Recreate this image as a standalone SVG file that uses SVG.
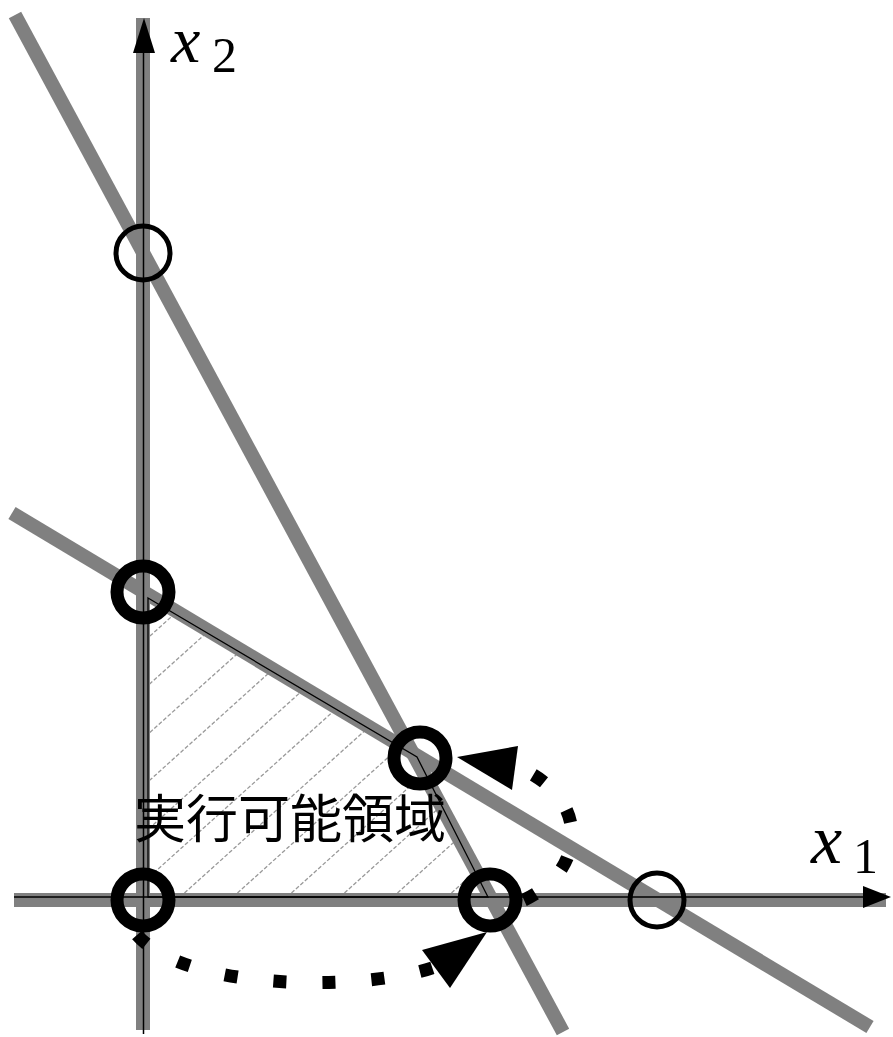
<svg xmlns="http://www.w3.org/2000/svg" width="893" height="1037" viewBox="0 0 893 1037">
<style>
.g{stroke:#808080;stroke-width:14;fill:none}
.thin{stroke:#000;stroke-width:1.5;fill:none}
.hatch{stroke:#999;stroke-width:1.3;stroke-dasharray:4 2;fill:none}
.oc{fill:none;stroke:#000;stroke-width:5}
.bc{fill:none;stroke:#000;stroke-width:13}
.dot{fill:none;stroke:#000;stroke-width:13;stroke-dasharray:13 36}
.lbl{font-family:"Liberation Serif",serif;font-style:italic}
.num{font-family:"Liberation Serif",serif}
.jp{font-family:"Noto Sans CJK JP",sans-serif;font-size:52px}
</style>
<defs>
<clipPath id="reg"><polygon points="148,598 417,757 488,897 148,897"/></clipPath>
</defs>
<rect width="893" height="1037" fill="#fff"/>
<g id="region">
<g clip-path="url(#reg)">
<path class="hatch" d="M500,897 l600,-540 M447,897 l600,-540 M393,897 l600,-540 M340,897 l600,-540 M287,897 l600,-540 M233,897 l600,-540 M180,897 l600,-540 M127,897 l600,-540 M73,897 l600,-540 M20,897 l600,-540 M-33,897 l600,-540 M-87,897 l600,-540 M-140,897 l600,-540 M-193,897 l600,-540 M-247,897 l600,-540"/>
</g>
</g>
<g id="lines">
<line class="g" x1="143" y1="18" x2="143" y2="1030"/>
<line class="g" x1="14" y1="900" x2="886" y2="900"/>
<line class="g" x1="15" y1="15" x2="563" y2="1032"/>
<line class="g" x1="12" y1="513" x2="870" y2="1027"/>
</g>
<g id="axes">
<line class="thin" x1="143.5" y1="40" x2="143.5" y2="1034"/>
<polygon points="144,18 133,53 155,53" fill="#000"/>
<line class="thin" x1="14" y1="897" x2="870" y2="897"/>
<polygon points="891,897 863,886 863,908" fill="#000"/>
<polygon points="148,598 417,757 488,897 148,897" fill="none" stroke="#000" stroke-width="1.3"/>
</g>
<g id="labels">
<text class="lbl" x="171" y="62" font-size="66">x</text>
<text class="num" x="212" y="72" font-size="50">2</text>
<text class="lbl" x="811" y="863" font-size="70">x</text>
<text class="num" x="853" y="873" font-size="50">1</text>
<text class="jp" x="134" y="838">実行可能領域</text>
</g>
<g id="vertices">
<circle class="oc" cx="143" cy="253" r="27"/>
<circle class="oc" cx="657" cy="900" r="27"/>
<circle class="bc" cx="143" cy="592" r="26"/>
<circle class="bc" cx="420" cy="758" r="26"/>
<circle class="bc" cx="143" cy="900" r="26"/>
<circle class="bc" cx="490" cy="900" r="26"/>
</g>
<g id="connectors">
<path class="dot" d="M524,900 C585,872 592,800 520,768"/>
<polygon points="457,757 518,746 512,790" fill="#000"/>
<path class="dot" d="M137,935 C190,995 380,990 440,965"/>
<polygon points="422,950 450,988 487,932" fill="#000"/>
</g>
</svg>
